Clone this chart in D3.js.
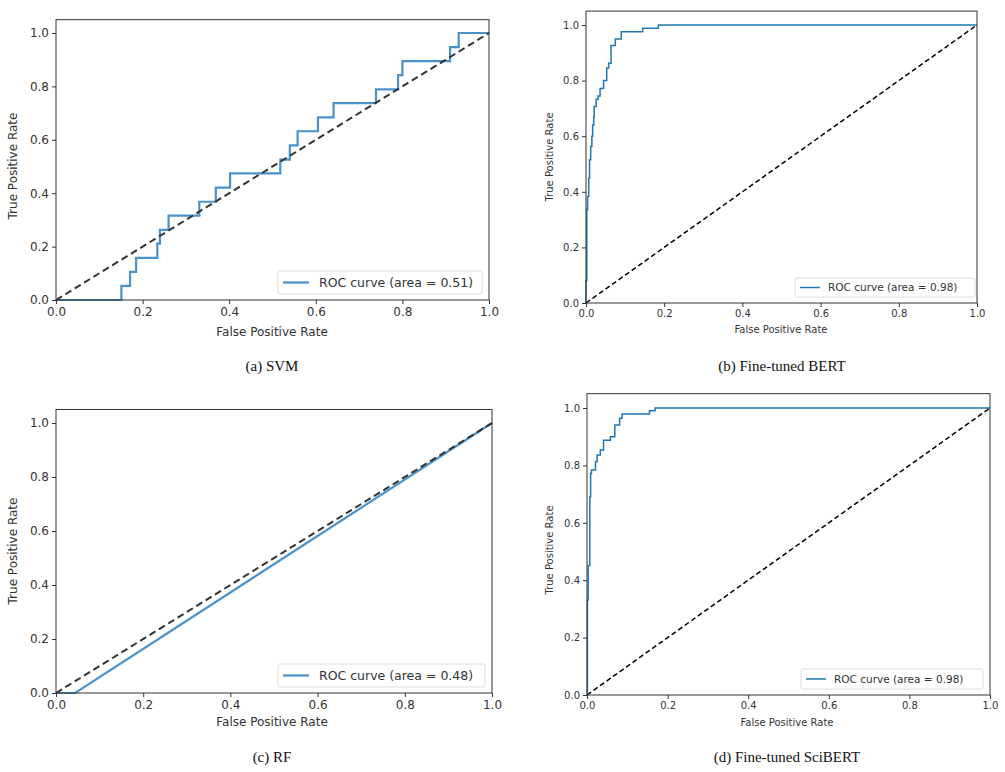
<!DOCTYPE html>
<html><head><meta charset="utf-8">
<script src="https://cdn.jsdelivr.net/npm/d3@7"></script>
<style>body{margin:0;background:#fff}text{font-family:"DejaVu Sans",sans-serif}</style>
</head><body>
<svg id="c" width="1005" height="772"></svg>
<script>
const ticks = [0, 0.2, 0.4, 0.6, 0.8, 1.0];
const captions = ["(a) SVM", "(b) Fine-tuned BERT", "(c) RF", "(d) Fine-tuned SciBERT"];
const legendLabels = ["ROC curve (area = 0.51)", "ROC curve (area = 0.98)", "ROC curve (area = 0.48)", "ROC curve (area = 0.98)"];
const svmRoc = [[0,0],[0.151,0],[0.151,0.053],[0.171,0.053],[0.171,0.105],[0.185,0.105],[0.185,0.158],[0.234,0.158],[0.234,0.211],[0.24,0.211],[0.24,0.263],[0.26,0.263],[0.26,0.316],[0.331,0.316],[0.331,0.368],[0.369,0.368],[0.369,0.421],[0.402,0.421],[0.402,0.474],[0.518,0.474],[0.518,0.526],[0.54,0.526],[0.54,0.579],[0.558,0.579],[0.558,0.632],[0.605,0.632],[0.605,0.684],[0.641,0.684],[0.641,0.737],[0.739,0.737],[0.739,0.789],[0.79,0.789],[0.79,0.842],[0.8,0.842],[0.8,0.895],[0.91,0.895],[0.91,0.947],[0.93,0.947],[0.93,1],[1,1]];
const bertRoc = [[0,0],[0,0.08],[0.002,0.08],[0.002,0.335],[0.004,0.335],[0.004,0.383],[0.007,0.383],[0.007,0.45],[0.009,0.45],[0.009,0.515],[0.012,0.515],[0.012,0.563],[0.015,0.563],[0.015,0.6],[0.017,0.6],[0.017,0.64],[0.02,0.64],[0.02,0.67],[0.021,0.67],[0.021,0.707],[0.026,0.707],[0.026,0.733],[0.031,0.733],[0.031,0.745],[0.036,0.745],[0.036,0.772],[0.045,0.772],[0.045,0.8],[0.053,0.8],[0.053,0.845],[0.058,0.845],[0.058,0.862],[0.064,0.862],[0.064,0.926],[0.075,0.926],[0.075,0.95],[0.09,0.95],[0.09,0.976],[0.145,0.976],[0.145,0.988],[0.185,0.988],[0.185,1],[1,1]];
const rfRoc = [[0,0],[0.044,0],[1,1]];
const sciRoc = [[0,0],[0.001,0],[0.001,0.331],[0.003,0.331],[0.003,0.451],[0.007,0.451],[0.007,0.69],[0.009,0.69],[0.009,0.772],[0.011,0.772],[0.011,0.784],[0.021,0.784],[0.021,0.813],[0.025,0.813],[0.025,0.836],[0.033,0.836],[0.033,0.854],[0.041,0.854],[0.041,0.888],[0.058,0.888],[0.058,0.9],[0.069,0.9],[0.069,0.941],[0.081,0.941],[0.081,0.964],[0.087,0.964],[0.087,0.979],[0.155,0.979],[0.155,0.99],[0.169,0.99],[0.169,1],[1,1]];
const diag = [[0,0],[1,1]];

const panels = [
 {d:svmRoc, x0:56,x1:489,y0:300,y1:33, col:"#4a92c9", lw:2.2, dash:"#333", fs:12, lab:12.5, leg:[278,271,204,23], cap:[272,371], xl:[272,336], yl:[17,166]},
 {d:bertRoc, x0:586,x1:977,y0:303,y1:25, col:"#1f77b4", lw:1.5, dash:"#000", fs:10, lab:10.5, leg:[795,278,180,19], cap:[782,371], xl:[781,333], yl:[553,157]},
 {d:rfRoc, x0:56,x1:492,y0:693,y1:423, col:"#4a92c9", lw:2.2, dash:"#333", fs:12, lab:12.5, leg:[278,664,207,23], cap:[272,762], xl:[272,726], yl:[17,551]},
 {d:sciRoc, x0:587,x1:990,y0:695,y1:408, col:"#1f77b4", lw:1.5, dash:"#000", fs:10, lab:10.5, leg:[801,669,182,20], cap:[787,762], xl:[787,726], yl:[553,550]}
];
const svg = d3.select("#c");
panels.forEach((p,i)=>{
  const x = d3.scaleLinear().domain([0,1]).range([p.x0,p.x1]);
  const y = d3.scaleLinear().domain([0,1]).range([p.y0,p.y1]);
  const g = svg.append("g");
  const line = d3.line().x(d=>x(d[0])).y(d=>y(d[1]));
  g.append("path").attr("d",line(p.d)).attr("fill","none").attr("stroke",p.col).attr("stroke-width",p.lw);
  g.append("path").attr("d",line(diag)).attr("fill","none").attr("stroke",p.dash).attr("stroke-width",p.lw>2?2:1.5).attr("stroke-dasharray",p.lw>2?"7,4":"5,3");
  g.append("rect").attr("x",p.x0).attr("y",y(1.05)).attr("width",p.x1-p.x0).attr("height",p.y0-y(1.05)).attr("fill","none").attr("stroke","#333").attr("stroke-width",1);
  const xa = g.append("g").attr("transform",`translate(0,${p.y0})`).call(d3.axisBottom(x).tickValues(ticks).tickFormat(d3.format(".1f")).tickSize(4).tickSizeOuter(0));
  const ya = g.append("g").attr("transform",`translate(${p.x0},0)`).call(d3.axisLeft(y).tickValues(ticks).tickFormat(d3.format(".1f")).tickSize(4).tickSizeOuter(0));
  [xa,ya].forEach(a=>{a.select(".domain").remove();a.selectAll("text").attr("font-size",p.fs).attr("fill","#333").attr("font-family","DejaVu Sans");a.selectAll("line").attr("stroke","#333");});
  g.append("text").attr("x",p.xl[0]).attr("y",p.xl[1]).attr("text-anchor","middle").attr("font-size",p.fs).attr("fill","#333").text("False Positive Rate");
  g.append("text").attr("transform",`translate(${p.yl[0]},${p.yl[1]}) rotate(-90)`).attr("text-anchor","middle").attr("font-size",p.fs).attr("fill","#333").text("True Positive Rate");
  const [lx,ly,lw,lh]=p.leg;
  g.append("rect").attr("x",lx).attr("y",ly).attr("width",lw).attr("height",lh).attr("rx",2).attr("fill","#fff").attr("stroke","#ddd");
  g.append("line").attr("x1",lx+5).attr("x2",lx+(p.fs>11?31:25)).attr("y1",ly+lh/2).attr("y2",ly+lh/2).attr("stroke",p.col).attr("stroke-width",p.lw);
  g.append("text").attr("x",lx+(p.fs>11?41:33)).attr("y",ly+lh/2+p.fs*0.36).attr("font-size",p.lab).attr("fill","#333").text(legendLabels[i]);
  g.append("text").attr("x",p.cap[0]).attr("y",p.cap[1]).attr("text-anchor","middle").attr("font-family","Liberation Serif").attr("font-size",15).attr("fill","#111").style("font-family","'Liberation Serif',serif").text(captions[i]);
});
</script>
</body></html>
